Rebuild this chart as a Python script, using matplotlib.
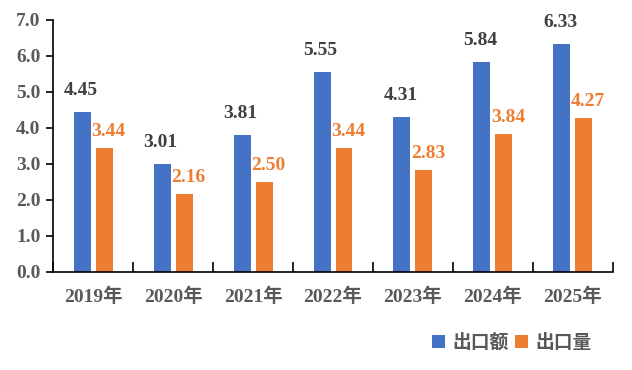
import numpy as np
import matplotlib.pyplot as plt
from matplotlib.ticker import FormatStrFormatter

plt.rcParams['font.family'] = ['Liberation Serif', 'Noto Sans CJK SC']
plt.rcParams['font.weight'] = 'bold'

years = ['2019年', '2020年', '2021年', '2022年', '2023年', '2024年', '2025年']
export_value = [4.45, 3.01, 3.81, 5.55, 4.31, 5.84, 6.33]
export_volume = [3.44, 2.16, 2.50, 3.44, 2.83, 3.84, 4.27]

blue = '#4472C4'
orange = '#ED7D31'
gray = '#595959'

fig = plt.figure(figsize=(6.32, 3.70), dpi=100)
ax = fig.add_axes([0.0839, 0.265, 0.886, 0.681])

x = np.arange(len(years))
w = 0.2125
off = 0.1375
b1 = ax.bar(x - off, export_value, w, color=blue, label='出口额')
b2 = ax.bar(x + off, export_volume, w, color=orange, label='出口量')

for xi, v in zip(x, export_value):
    ax.annotate(f'{v:.2f}', (xi - off, v), xytext=(-1, 15.5), textcoords='offset points',
                ha='center', va='center', fontsize=14, fontweight='bold', color='#404040')
for xi, v in zip(x, export_volume):
    ax.annotate(f'{v:.2f}', (xi + off, v), xytext=(3, 12), textcoords='offset points',
                ha='center', va='center', fontsize=14, fontweight='bold', color=orange)

ax.set_xlim(-0.5, len(years) - 0.5)
ax.set_ylim(0, 7)
ax.set_yticks(np.arange(0, 7.1, 1.0))
ax.yaxis.set_major_formatter(FormatStrFormatter('%.1f'))
ax.set_xticks(x)
ax.set_xticklabels(years)
ax.set_xticks(np.arange(-0.5, len(years)), minor=True)
ax.tick_params(axis='x', which='major', length=0, pad=11, labelsize=14, labelcolor=gray)
ax.tick_params(axis='x', which='minor', direction='in', length=7, width=1.2)
ax.tick_params(axis='y', direction='out', length=5, width=1.2, labelsize=14, labelcolor=gray, pad=4)
for t in ax.get_xticklabels() + ax.get_yticklabels():
    t.set_fontweight('bold')

for s in ['top', 'right']:
    ax.spines[s].set_visible(False)
for s in ['left', 'bottom']:
    ax.spines[s].set_linewidth(1.2)

leg = fig.legend(handles=[b1, b2], loc='center', bbox_to_anchor=(0.81, 0.073), ncol=2,
                 frameon=False, handlelength=0.7, handleheight=0.7, handletextpad=0.4,
                 columnspacing=0.3, prop={'size': 13.5})
for t in leg.get_texts():
    t.set_color(gray)

fig.savefig('out.png', dpi=100)
